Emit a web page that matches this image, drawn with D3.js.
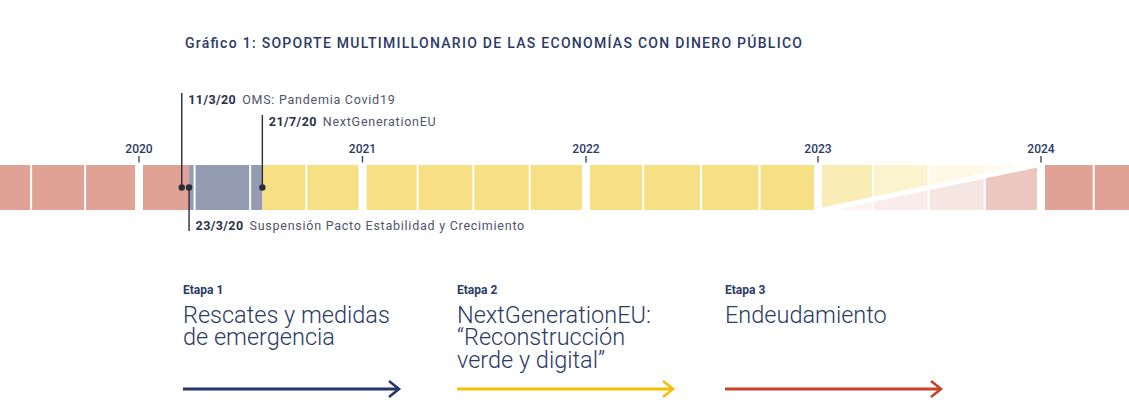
<!DOCTYPE html>
<html>
<head>
<meta charset="utf-8">
<script src="https://cdn.jsdelivr.net/npm/d3@7/dist/d3.min.js"></script>
<style>
  html, body { margin: 0; padding: 0; background: #ffffff; }
  svg { display: block; font-family: Roboto, "Noto Sans", sans-serif; }
</style>
</head>
<body>
<svg id="chart" width="1129" height="405"></svg>
<script>
// ---------------- DATA ----------------
const title = "Gráfico 1: SOPORTE MULTIMILLONARIO DE LAS ECONOMÍAS CON DINERO PÚBLICO";
const years = [2019, 2020, 2021, 2022, 2023, 2024];
const yearTicks = [2020, 2021, 2022, 2023, 2024];
const quartersPerYear = [1, 2, 3, 4];

// phases of the band: [start, end, kind]
const phaseStarts = ["2019-01-01", "2020-03-23", "2020-07-21", "2023-01-01", "2024-01-01"];
const phaseEnds   = ["2020-03-23", "2020-07-21", "2023-01-01", "2024-01-01", "2025-01-01"];
const phaseKinds  = ["deuda", "rescate", "ngeu", "transicion", "deuda"];

// transition year 2023: fading NGEU (yellow) and growing debt (pink) per quarter
const transitionNgeu  = [0.6, 0.4, 0.2, 0.14];
const transitionDebt  = [0.12, 0.2, 0.27, 0.6];

// events
const eventDates  = ["2020-03-11", "2020-07-21", "2020-03-23"];
const eventLabels = ["11/3/20", "21/7/20", "23/3/20"];
const eventTexts  = ["OMS: Pandemia Covid19", "NextGenerationEU", "Suspensión Pacto Estabilidad y Crecimiento"];
const eventSides  = ["up", "up", "down"];

// stages
const stageLabels = ["Etapa 1", "Etapa 2", "Etapa 3"];
const stageTexts  = [
  ["Rescates y medidas", "de emergencia"],
  ["NextGenerationEU:", "“Reconstrucción", "verde y digital”"],
  ["Endeudamiento"]
];

// ---------------- STYLE ----------------
const colors = {
  deuda: "#dfa295",
  rescate: "#949cb4",
  ngeu: "#f6df84",
  navy: "#2b3a67",
  dark: "#2a2d3a",
  grey: "#50536a"
};
const stageColors = ["#27366a", "#f2c200", "#c1442b"];

// ---------------- SCALES ----------------
const parse = d3.timeParse("%Y-%m-%d");
const yearDate = y => new Date(y, 0, 1);
const x = d3.scaleTime()
  .domain([2019, 2020, 2021, 2022, 2023, 2024, 2025].map(yearDate))
  .range([-75, 139, 362.5, 586, 818, 1041, 1253]);

const bandTop = 165, bandBottom = 210, bandMid = (bandTop + bandBottom) / 2;
const y = d3.scaleLinear().domain([0, 1]).range([bandBottom, bandTop]);

const svg = d3.select("#chart");

// title
svg.append("text")
  .attr("x", 185).attr("y", 48)
  .attr("fill", colors.navy)
  .attr("font-size", 14).attr("font-weight", 500)
  .attr("textLength", 617).attr("lengthAdjust", "spacing")
  .text(title);

// ---------------- QUARTER BLOCKS ----------------
const quarters = [];
years.forEach(yr => quartersPerYear.forEach(q => {
  const s = new Date(yr, (q - 1) * 3, 1);
  const e = new Date(yr, q * 3, 1);
  quarters.push({ year: yr, q, s, e,
    x0: x(s) + (q === 1 ? 4 : 1),
    x1: x(e) - (q === 4 ? 4 : 1) });
}));

const phases = phaseStarts.map((s, i) => ({ s: parse(s), e: parse(phaseEnds[i]), kind: phaseKinds[i] }));

const defs = svg.append("defs");
const tq = quarters.filter(d => d.year === 2023);
const dx0 = tq[0].x0, dx1 = tq[3].x1;
defs.append("clipPath").attr("id", "aboveDiag")
  .append("polygon")
  .attr("points", [[dx0, y(0)], [dx1, y(1)], [dx0, y(1)]].map(p => p.join(",")).join(" "));
defs.append("clipPath").attr("id", "belowDiag")
  .append("polygon")
  .attr("points", [[dx0, y(0)], [dx1, y(1)], [dx1, y(0)]].map(p => p.join(",")).join(" "));

const band = svg.append("g");
quarters.forEach(qd => {
  phases.forEach(p => {
    const s = Math.max(qd.s, p.s), e = Math.min(qd.e, p.e);
    if (e <= s) return;
    const px0 = Math.max(qd.x0, x(new Date(s)));
    const px1 = Math.min(qd.x1, x(new Date(e)));
    if (px1 <= px0) return;
    if (p.kind === "transicion") {
      const i = qd.q - 1;
      band.append("rect")
        .attr("x", px0).attr("y", y(1)).attr("width", px1 - px0).attr("height", y(0) - y(1))
        .attr("fill", colors.ngeu).attr("fill-opacity", transitionNgeu[i])
        .attr("clip-path", "url(#aboveDiag)");
      band.append("rect")
        .attr("x", px0).attr("y", y(1)).attr("width", px1 - px0).attr("height", y(0) - y(1))
        .attr("fill", colors.deuda).attr("fill-opacity", transitionDebt[i])
        .attr("clip-path", "url(#belowDiag)");
    } else {
      band.append("rect")
        .attr("x", px0).attr("y", y(1)).attr("width", px1 - px0).attr("height", y(0) - y(1))
        .attr("fill", colors[p.kind]);
    }
  });
});
band.append("line")
  .attr("x1", dx0 - 2).attr("y1", y(0) + 0.5)
  .attr("x2", dx1 + 2).attr("y2", y(1) - 0.5)
  .attr("stroke", "#ffffff").attr("stroke-width", 5);

// ---------------- YEAR AXIS ----------------
const axis = svg.append("g");
axis.selectAll("line").data(yearTicks).join("line")
  .attr("x1", d => x(yearDate(d))).attr("x2", d => x(yearDate(d)))
  .attr("y1", 156).attr("y2", 162.5)
  .attr("stroke", colors.navy).attr("stroke-width", 1.3);
axis.selectAll("text").data(yearTicks).join("text")
  .attr("x", d => x(yearDate(d))).attr("y", 153)
  .attr("text-anchor", "middle")
  .attr("font-size", 12).attr("font-weight", 500)
  .attr("fill", colors.navy)
  .text(d => d);

// ---------------- EVENTS ----------------
const events = eventDates.map((d, i) => ({ date: parse(d), label: eventLabels[i], text: eventTexts[i], side: eventSides[i] }));
const upLevels = [104, 126];
let upIdx = 0;
const ev = svg.append("g");
events.forEach(e => {
  const ex = x(e.date);
  let base, yEnd;
  if (e.side === "up") { base = upLevels[upIdx++]; yEnd = base - 11; }
  else { base = 230; yEnd = 231; }
  ev.append("line")
    .attr("x1", ex).attr("x2", ex)
    .attr("y1", bandMid).attr("y2", yEnd)
    .attr("stroke", colors.dark).attr("stroke-width", 1.4);
  const t = ev.append("text")
    .attr("x", ex + 6.5).attr("y", base)
    .attr("font-size", 12.5);
  t.append("tspan").attr("font-weight", 700).attr("fill", "#2d3048")
    .attr("letter-spacing", 0.4).text(e.label);
  t.append("tspan").attr("dx", 6).attr("fill", colors.grey)
    .attr("letter-spacing", 0.75).text(e.text);
});
ev.selectAll("circle").data(events).join("circle")
  .attr("cx", d => x(d.date)).attr("cy", bandMid)
  .attr("r", 3.2).attr("fill", colors.dark);

// ---------------- STAGES ----------------
const stageX = d3.scalePoint().domain(stageLabels).range([183, 725]);
const st = svg.append("g");
stageLabels.forEach((lab, i) => {
  const sx = stageX(lab) + (i === 1 ? 3 : 0);
  st.append("text")
    .attr("x", sx).attr("y", 294)
    .attr("font-size", 12).attr("font-weight", 700)
    .attr("fill", colors.navy)
    .text(lab);
  stageTexts[i].forEach((line, j) => {
    st.append("text")
      .attr("x", sx).attr("y", 322.5 + j * 22.5)
      .attr("font-size", 23.5).attr("font-weight", 300)
      .attr("fill", colors.navy)
      .text(line);
  });
  const ax0 = sx, ax1 = sx + 216;
  st.append("line")
    .attr("x1", ax0).attr("x2", ax1 - 1).attr("y1", 389).attr("y2", 389)
    .attr("stroke", stageColors[i]).attr("stroke-width", 3.2);
  st.append("path")
    .attr("d", `M${ax1 - 10},${381} L${ax1},${389} L${ax1 - 10},${397}`)
    .attr("fill", "none")
    .attr("stroke", stageColors[i]).attr("stroke-width", 2.6);
});
</script>
</body>
</html>
